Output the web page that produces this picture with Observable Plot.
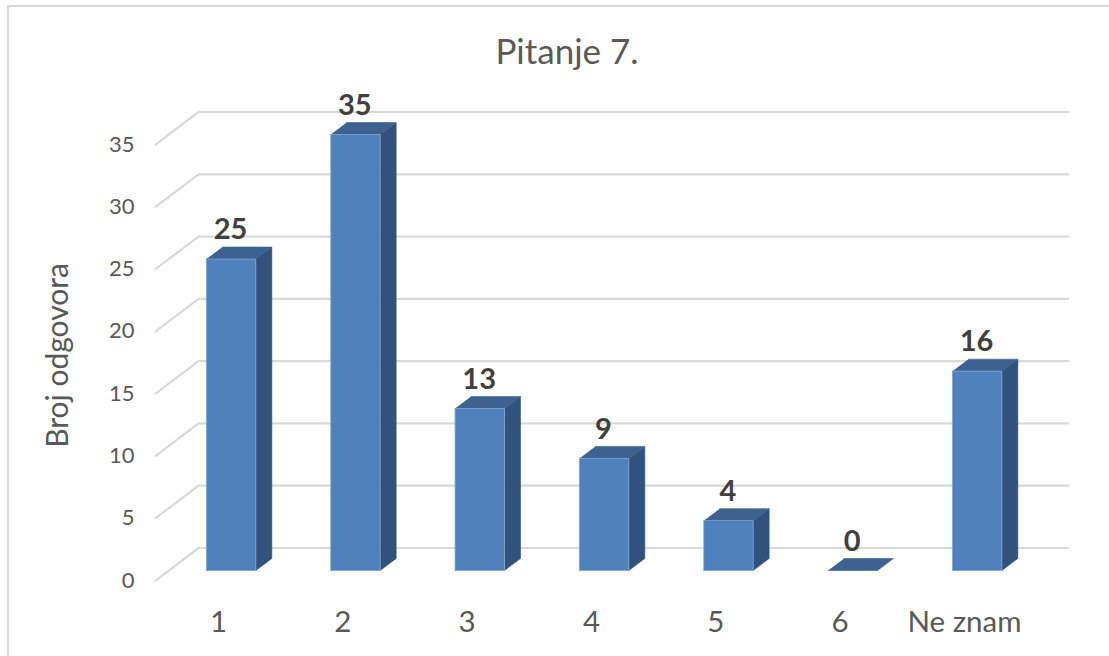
<!DOCTYPE html>
<html><head><meta charset="utf-8">
<script src="https://cdn.jsdelivr.net/npm/d3@7"></script>
<script src="https://cdn.jsdelivr.net/npm/@observablehq/plot@0.6"></script>
<style>html,body{margin:0;padding:0;background:#fff;overflow:hidden}svg{display:block}
#chart{position:relative;width:1109px;height:656px}
#border{position:absolute;left:7px;top:5px;right:0;bottom:0;border-left:2px solid #d9d9d9;border-top:2px solid #d9d9d9;pointer-events:none}
</style>
</head><body><div id="chart"><div id="border"></div></div>
<script>
const categories = ["1","2","3","4","5","6","Ne znam"];
const values = [25,35,13,9,4,0,16];
const yTicks = [0,5,10,15,20,25,30,35];
const titleText = "Pitanje 7.";
const yAxisTitle = "Broj odgovora";

const FONT = "Lato, Carlito, sans-serif";
const pxX = 124.33, pxY = 436/35;
const halfW = 24.7/pxX, depthX = 16/pxX, depthY = 12/pxY;
const idx = categories.map((_, i) => i);

const poly = (pts, key) => pts.map(([x, y]) => ({x, y, key}));
const frontFaces = [], sideFaces = [], topFaces = [];
values.forEach((v, i) => {
  const l = i - halfW - 0.003, r = i + halfW - 0.003;
  frontFaces.push(...poly([[l,0],[r,0],[r,v],[l,v]], i));
  sideFaces.push(...poly([[r,0],[r+depthX,depthY],[r+depthX,v+depthY],[r,v]], i));
  topFaces.push(...poly([[l,v],[r,v],[r+depthX,v+depthY],[l+depthX,v+depthY]], i));
});
const wallLeft = -0.265, wallRight = 6.73, floorLeft = -0.611;
const floorFront = -0.803, wallBack = 1.806;
const grid = yTicks.flatMap(t => [
  {x: floorLeft, y: t + floorFront, t},
  {x: wallLeft, y: t + wallBack, t},
  {x: wallRight, y: t + wallBack, t}
]);

const chart = Plot.plot({
  width: 1109, height: 656,
  margin: 0,
  style: {background: "transparent", fontFamily: FONT},
  x: {type: "linear", domain: [0, 6], range: [231, 977], axis: null},
  y: {type: "linear", domain: [0, 35], range: [570, 134], axis: null},
  marks: [
    Plot.line(grid, {x: "x", y: "y", z: "t", stroke: "#d9d9d9", strokeWidth: 2.2, curve: "linear"}),
    Plot.line(sideFaces.filter(d => values[d.key] > 0), {x: "x", y: "y", z: "key", fill: "#31527c", stroke: "#31527c", strokeWidth: 0.6}),
    Plot.line(topFaces, {x: "x", y: "y", z: "key", fill: "#3d6292", stroke: "#3d6292", strokeWidth: 0.6}),
    Plot.line(frontFaces.filter(d => values[d.key] > 0).flatMap((d, i, a) => (i % 4 === 3 ? [d, a[i - 3]] : [d])), {x: "x", y: "y", z: "key", fill: "#4f81bd", stroke: "#7fa3d0", strokeWidth: 0.8}),
    Plot.text(yTicks, {x: floorLeft, y: d => d + floorFront, text: d => String(d), dx: -21, textAnchor: "end", fontSize: 22, fill: "#595959", fontFamily: FONT}),
    Plot.text(idx, {x: d => d, y: floorFront, text: d => categories[d], dx: -13, dy: 42, fontSize: 29.5, fill: "#595959", fontFamily: FONT}),
    Plot.text(idx, {x: d => d, y: d => values[d] + depthY, text: d => String(values[d]), dx: -1, dy: -17, fontSize: 29, fontWeight: 700, fill: "#404040", fontFamily: FONT}),
    Plot.text([titleText], {frameAnchor: "top", text: d => d, dy: 39, dx: 12, fontSize: 35, fill: "#595959", fontFamily: FONT}),
    Plot.text([yAxisTitle], {frameAnchor: "left", textAnchor: "middle", text: d => d, dx: 58, dy: 27, rotate: -90, fontSize: 30, fill: "#595959", fontFamily: FONT})
  ]
});
document.getElementById("chart").append(chart);
</script></body></html>
